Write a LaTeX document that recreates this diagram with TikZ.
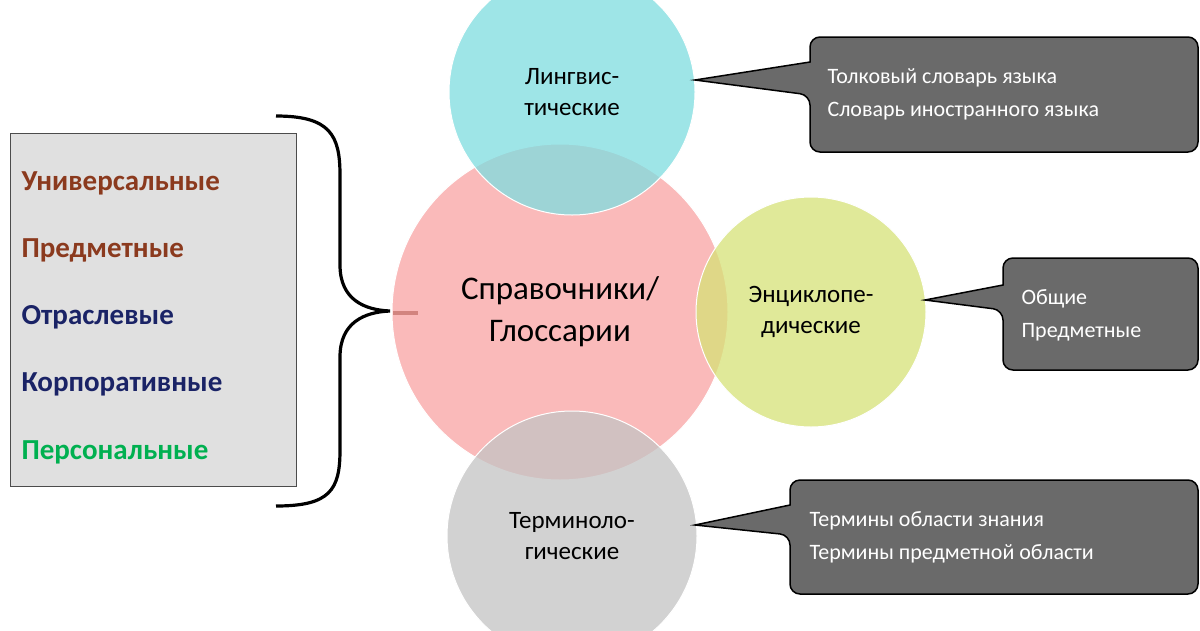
\documentclass[tikz,border=0pt]{standalone}
\usepackage{fontspec}
\setmainfont{Carlito}
\definecolor{cbrown}{HTML}{8B3A1E}
\definecolor{cnavy}{HTML}{1A2366}
\definecolor{cgreen}{HTML}{00B050}
\definecolor{cpink}{HTML}{F9A3A3}
\definecolor{ccyan}{HTML}{7EDDE0}
\definecolor{cyel}{HTML}{D6E277}
\definecolor{cgray}{HTML}{C4C4C4}
\definecolor{ccall}{HTML}{6A6A6A}
\tikzset{
 circ/.style={circle,draw=white,line width=1pt,fill opacity=0.75,text opacity=1,font=\fontsize{25}{31}\selectfont,align=center},
 lbl/.style={font=\bfseries\fontsize{29}{34}\selectfont,anchor=west},
 call/.style={fill=ccall,draw=black,line width=1.5pt},
 calltxt/.style={text=white,font=\fontsize{22}{33}\selectfont,align=left,anchor=west}
}
\begin{document}
\begin{tikzpicture}[x=1pt,y=-1pt]
\useasboundingbox (0,0) rectangle (1200,630);
\fill[white] (0,0) rectangle (1200,630);
% left box
\node[draw=black!70,fill=black!12,line width=0.8pt,minimum width=286pt,minimum height=353pt,anchor=north west] (box) at (10,133) {};
\node[lbl,text=cbrown] (l1) at (18,183) {Универсальные};
\node[lbl,text=cbrown] (l2) at (18,250) {Предметные};
\node[lbl,text=cnavy] (l3) at (18,317) {Отраслевые};
\node[lbl,text=cnavy] (l4) at (18,384) {Корпоративные};
\node[lbl,text=cgreen] (l5) at (18,452) {Персональные};
% brace
\draw[line width=3.2pt] (276,116) .. controls (330,116) and (340,135) .. (340,175)
 -- (340,265) .. controls (340,300) and (365,310) .. (390,311)
 .. controls (365,312) and (340,322) .. (340,357) -- (340,450)
 .. controls (340,490) and (330,506) .. (276,506);
\coordinate (dash) at (393,313);
\draw[line width=3.2pt,color=cbrown!70!black] (dash) -- ++(25,0);
% circles
\node[circ,fill=cpink,minimum size=336pt,font=\fontsize{33}{42}\selectfont] (main) at (560,312) {Справочники/\\Глоссарии};
\node[circ,fill=ccyan,minimum size=246pt] (top) at (572,92) {Лингвис-\\тические};
\node[circ,fill=cyel,minimum size=230pt] (enc) at (811,312) {Энциклопе-\\дические};
\node[circ,fill=cgray,minimum size=250pt] (term) at (572,536) {Терминоло-\\гические};
% callouts
\coordinate (p1) at (695,80);
\coordinate (p2) at (925,300);
\coordinate (p3) at (695,525);
\draw[call] (810,62) [rounded corners=10pt] -- (810,37) -- (1198,37) -- (1198,152) -- (810,152) -- (810,95) [sharp corners] -- (p1) -- cycle;
\node[calltxt] (t1) at (824,94) {Толковый словарь языка\\Словарь иностранного языка};
\draw[call] (1003,285) [rounded corners=10pt] -- (1003,258) -- (1198,258) -- (1198,370) -- (1003,370) -- (1003,310) [sharp corners] -- (p2) -- cycle;
\node[calltxt] (t2) at (1018,315) {Общие\\Предметные};
\draw[call] (790,505) [rounded corners=10pt] -- (790,480) -- (1198,480) -- (1198,594) -- (790,594) -- (790,535) [sharp corners] -- (p3) -- cycle;
\node[calltxt] (t3) at (806,537) {Термины области знания\\Термины предметной области};
\end{tikzpicture}
\end{document}
